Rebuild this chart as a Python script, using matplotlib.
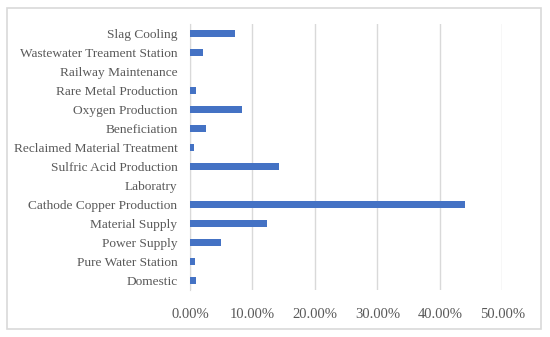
import matplotlib.pyplot as plt
from matplotlib.patches import Rectangle
from matplotlib.ticker import FuncFormatter

# categories bottom -> top, as drawn
categories = ['Domestic', 'Pure Water Station', 'Power Supply', 'Material Supply',
              'Cathode Copper Production', 'Laboratry', 'Sulfric Acid Production',
              'Reclaimed Material Treatment', 'Beneficiation', 'Oxygen Production',
              'Rare Metal Production', 'Railway Maintenance',
              'Wastewater Treament Station', 'Slag Cooling']
shares = [0.0095, 0.0073, 0.0498, 0.1230, 0.4395, 0.0, 0.1428,
          0.0056, 0.0258, 0.0840, 0.0100, 0.0, 0.0207, 0.0717]
ticks = [0.0, 0.1, 0.2, 0.3, 0.4, 0.5]

text_col = '#595959'
grid_col = '#d9d9d9'

fig = plt.figure(figsize=(5.5, 3.37), dpi=100)
ax = fig.add_axes([0.3455, 0.1395, 0.9133 - 0.3455, 0.9288 - 0.1395])

ypos = list(range(len(categories)))
ax.barh(ypos, shares, height=0.35, color='#4472c4', zorder=3)

ax.set_xlim(0, 0.5)
ax.set_ylim(-0.5, len(categories) - 0.5)
ax.set_xticks(ticks)
ax.xaxis.set_major_formatter(FuncFormatter(lambda v, p: f'{v*100:.2f}%'))
ax.set_yticks(ypos)
ax.set_yticklabels(categories)

ax.grid(axis='x', color=grid_col, linewidth=1, zorder=0)
for s in ['top', 'right', 'bottom']:
    ax.spines[s].set_visible(False)
ax.spines['left'].set_color(grid_col)
ax.tick_params(length=0, colors=text_col)
ax.tick_params(axis='x', pad=13)
ax.tick_params(axis='y', pad=9)
for lab in ax.get_xticklabels():
    lab.set_family('Liberation Serif')
    lab.set_fontsize(10.5)
for lab in ax.get_yticklabels():
    lab.set_family('Liberation Serif')
    lab.set_fontsize(9.6)

# chart border
fig.patches.append(Rectangle((7 / 550, 1 - 329 / 337), 534 / 550, 321 / 337,
                             transform=fig.transFigure, fill=False,
                             edgecolor=grid_col, linewidth=1.2))

fig.savefig('out.png', dpi=100)
